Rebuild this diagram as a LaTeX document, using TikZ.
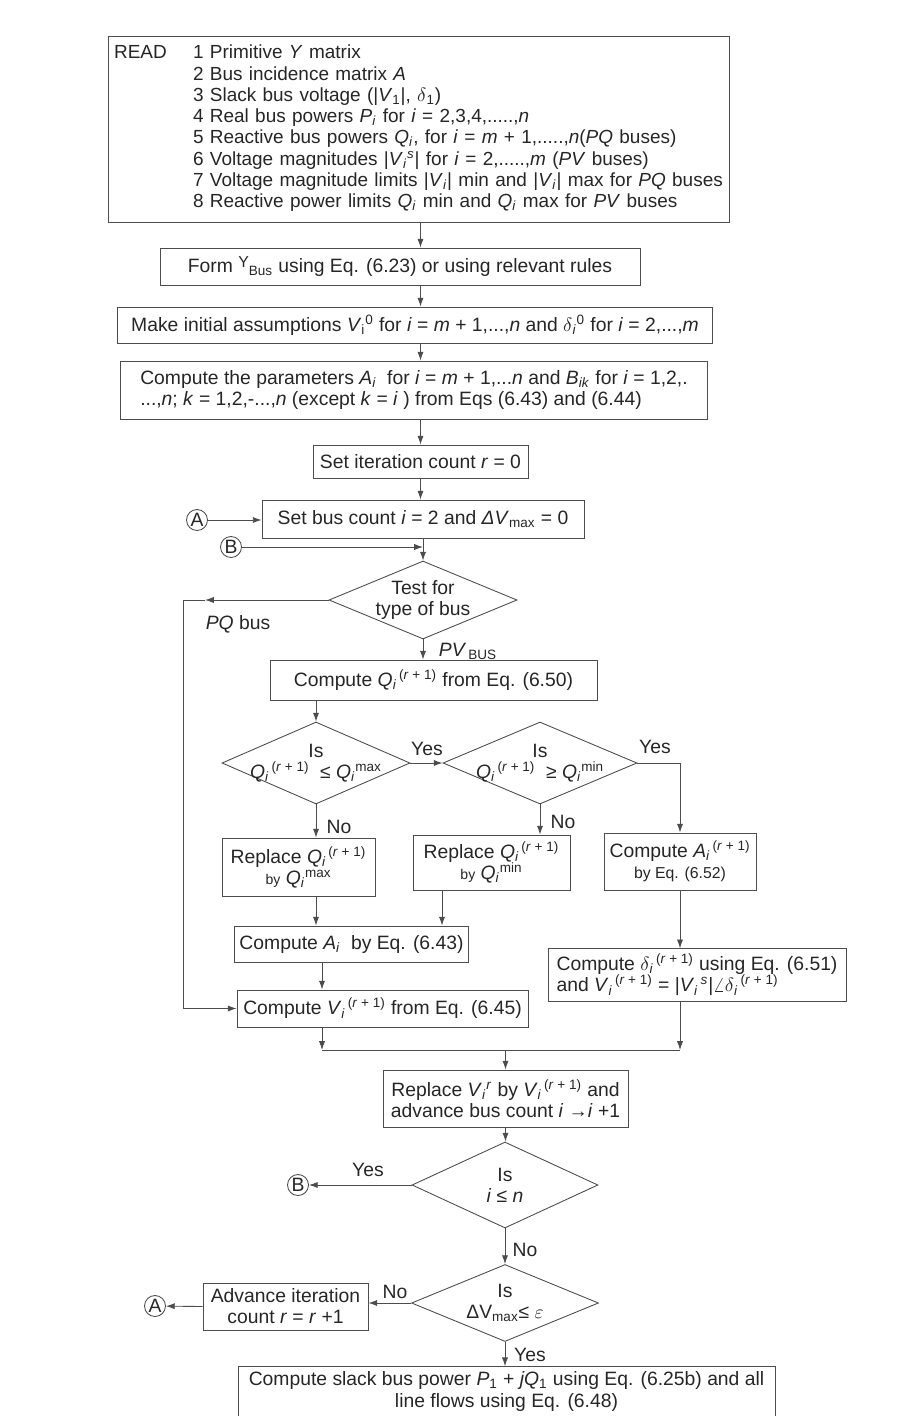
\documentclass[tikz,border=0pt]{standalone}
\usepackage{fontspec}
\setmainfont{Liberation Sans}
\usepackage{tikz}
\usetikzlibrary{arrows.meta,shapes.geometric}

\newcommand{\I}[1]{\textit{#1}}
\newcommand{\sbs}[1]{\textsubscript{#1}}
\newcommand{\sps}[1]{\textsuperscript{#1}}
\newcommand{\rpo}{\textsuperscript{\,(\I{r} + 1)}}
\newcommand{\smallby}{{\fontsize{8}{9}\selectfont by}}

\begin{document}
\begin{tikzpicture}[x=0.02cm, y=-0.02cm,
  every node/.style={font=\fontsize{11}{12}\selectfont, text=black!85},
  box/.style={draw=black!70, line width=0.5pt, inner sep=3pt, align=center},
  decision/.style={diamond, draw=black!70, line width=0.5pt, aspect=2.3,
    inner xsep=-1.2cm, inner ysep=0pt, align=center},
  conn/.style={circle, draw=black!70, line width=0.5pt, inner sep=0pt, minimum size=0.42cm},
  flow/.style={draw=black!70, line width=0.5pt, -{Latex[length=5pt,width=3.5pt]}},
  lbl/.style={inner sep=1pt}]

  \useasboundingbox (0,0) rectangle (906,1416);

  \node[box, font=\fontsize{10.8}{12.1}\selectfont, text width=12.2cm, align=left,
    minimum height=3.72cm] (read) at (419,129) {%
    \begin{tabular}{@{}p{1.58cm}@{}l@{}}
      READ & 1 Primitive \I{Y} matrix\\
           & 2 Bus incidence matrix \I{A}\\
           & 3 Slack bus voltage (|\I{V}\sbs{1}|, $\delta$\sbs{1})\\
           & 4 Real bus powers \I{P}\sbs{\I{i}} for \I{i} = 2,3,4,.....,\I{n}\\
           & 5 Reactive bus powers \I{Q}\sbs{\I{i}}, for \I{i} = \I{m} + 1,.....,\I{n}(\I{PQ} buses)\\
           & 6 Voltage magnitudes |\I{V}\sbs{\I{i}}\sps{\I{s}}| for \I{i} = 2,.....,\I{m} (\I{PV} buses)\\
           & 7 Voltage magnitude limits |\I{V}\sbs{\I{i}}| min and |\I{V}\sbs{\I{i}}| max for \I{PQ} buses\\
           & 8 Reactive power limits \I{Q}\sbs{\I{i}} min and \I{Q}\sbs{\I{i}} max for \I{PV} buses
    \end{tabular}};
  \node[box, minimum width=9.6cm, minimum height=0.74cm] (form) at (400,266.5)
    {Form {\fontsize{9}{9}\selectfont\raisebox{0.7ex}{Y}}\sbs{Bus} using Eq. (6.23) or using relevant rules};
  \node[box, minimum width=11.9cm, minimum height=0.72cm] (make) at (415,325)
    {Make initial assumptions \I{V}\sbs{i}\sps{0} for \I{i} = \I{m} + 1,...,\I{n} and $\delta$\sbs{\I{i}}\sps{0} for \I{i} = 2,...,\I{m}};
  \node[box, align=left, minimum width=11.74cm, minimum height=1.16cm] (params) at (414,390)
    {Compute the parameters \I{A}\sbs{\I{i}}\ \ for \I{i} = \I{m} + 1,...\I{n} and \I{B}\sbs{\I{ik}} for \I{i} = 1,2,.\\
     ...,\I{n}; \I{k} = 1,2,-...,\I{n} (except \I{k} = \I{i} ) from Eqs (6.43) and (6.44)};
  \node[box, minimum width=4.3cm, minimum height=0.66cm] (iter) at (420.5,461.5)
    {Set iteration count \I{r} = 0};
  \node[box, minimum width=6.44cm, minimum height=0.76cm] (busset) at (423,519)
    {Set bus count \I{i} = 2 and \I{Δ}\I{V}\sbs{max} = 0};
  \node[conn] (atop) at (197,520) {A};
  \node[conn] (btop) at (231,547) {B};

  \node[decision, minimum width=3.76cm, minimum height=1.56cm] (test) at (423,600)
    {Test for\\type of bus};
  \node[lbl] (pqlbl) at (238,624) {\I{PQ} bus};
  \node[lbl] (pvlbl) at (468,651) {\I{PV}\sbs{\,BUS}};
  \node[box, minimum width=6.54cm, minimum height=0.8cm] (qnew) at (433.5,680)
    {Compute \I{Q}\sbs{\I{i}}\rpo\ from Eq. (6.50)};

  \node[decision, minimum width=3.76cm, minimum height=1.64cm] (qmax) at (316,763)
    {Is\\\I{Q}\sbs{\I{i}}\rpo\ \ ≤ \I{Q}\sbs{\I{i}}\sps{max}};
  \node[decision, minimum width=3.88cm, minimum height=1.64cm] (qmin) at (540,763)
    {Is\\\I{Q}\sbs{\I{i}}\rpo\ \ ≥ \I{Q}\sbs{\I{i}}\sps{min}};
  \node[lbl] (yes1) at (427,749) {Yes};
  \node[lbl] (yes2) at (655,747) {Yes};
  \node[lbl] (no1) at (339,827) {No};
  \node[lbl] (no2) at (563,822) {No};

  \node[box, minimum width=3.06cm, minimum height=1.16cm] (rmax) at (298.5,867)
    {Replace \I{Q}\sbs{\I{i}}\rpo\\\smallby\ \I{Q}\sbs{\I{i}}\sps{max}};
  \node[box, minimum width=3.14cm, minimum height=1.1cm] (rmin) at (491.5,862.5)
    {Replace \I{Q}\sbs{\I{i}}\rpo\\\smallby\ \I{Q}\sbs{\I{i}}\sps{min}};
  \node[box, minimum width=3.04cm, minimum height=1.14cm] (anew) at (680,861.5)
    {Compute \I{A}\sbs{\I{i}}\rpo\\{\fontsize{9}{10}\selectfont by Eq. (6.52)}};
  \node[box, minimum width=4.66cm, minimum height=0.72cm] (aold) at (351.5,944)
    {Compute \I{A}\sbs{\I{i}}\ \ by Eq. (6.43)};
  \node[box, align=left, minimum width=5.96cm, minimum height=1.0cm] (dnew) at (697,975)
    {Compute $\delta$\sbs{\I{i}}\rpo\ using Eq. (6.51)\\
     and \I{V}\sbs{\I{i}}\rpo\ = |\I{V}\sbs{\I{i}}\sps{\,\I{s}}|$\angle\delta$\sbs{\I{i}}\rpo};
  \node[box, minimum width=5.82cm, minimum height=0.74cm] (vnew) at (382.5,1008.5)
    {Compute \I{V}\sbs{\I{i}}\rpo\ from Eq. (6.45)};

  \node[box, minimum width=4.9cm, minimum height=1.14cm] (vrep) at (505.5,1098.5)
    {Replace \I{V}\sbs{\I{i}}\sps{\I{r}} by \I{V}\sbs{\I{i}}\rpo\ and\\advance bus count \I{i} →\I{i} +1};
  \node[decision, minimum width=3.72cm, minimum height=1.72cm] (ilen) at (505,1185)
    {Is\\\I{i} ≤ \I{n}};
  \node[conn] (bbot) at (298,1185) {B};
  \node[lbl] (yes3) at (368,1170) {Yes};
  \node[lbl] (no3) at (525,1250) {No};
  \node[decision, minimum width=3.74cm, minimum height=1.54cm] (conv) at (505,1303)
    {Is\\ΔV\sbs{max}≤ $\varepsilon$};
  \node[box, minimum width=3.3cm, minimum height=0.94cm] (advance) at (285.5,1306.5)
    {Advance iteration\\count \I{r} = \I{r} +1};
  \node[conn] (abot) at (155,1306) {A};
  \node[lbl] (no4) at (395,1292) {No};
  \node[lbl] (yes4) at (530,1355) {Yes};
  \node[box, minimum width=10.74cm, minimum height=0.94cm] (final) at (506.5,1391.5)
    {Compute slack bus power \I{P}\sbs{1} + \I{jQ}\sbs{1} using Eq. (6.25b) and all\\line flows using Eq. (6.48)};

  \coordinate (pqtip) at (205,600);
  \coordinate (pqturn) at (183,600);
  \coordinate (mergel) at (322,1050);
  \coordinate (merger) at (680,1050);

  \draw[flow] (read.south -| iter) -- (form.north -| iter);
  \draw[flow] (form.south -| iter) -- (make.north -| iter);
  \draw[flow] (make.south -| iter) -- (params.north -| iter);
  \draw[flow] (params.south -| iter) -- (iter.north);
  \draw[flow] (iter.south) -- (iter.south |- busset.north);
  \draw[flow] (atop) -- (atop -| busset.west);
  \draw[flow] (btop) -- (btop -| test.north);
  \draw[flow] (busset.south -| test.north) -- (test.north);

  \draw[flow] (test.west) -- (pqtip);
  \draw[flow] (pqtip) -- (pqturn) |- (vnew.west);
  \draw[flow] (test.south) -- (test.south |- qnew.north);
  \draw[flow] (qmax.north |- qnew.south) -- (qmax.north);
  \draw[flow] (qmax.east) -- (qmin.west);
  \draw[flow] (qmin.east) -| (anew.north);
  \draw[flow] (qmax.south) -- (qmax.south |- rmax.north);
  \draw[flow] (qmin.south) -- (qmin.south |- rmin.north);
  \draw[flow] (qmax.south |- rmax.south) -- (qmax.south |- aold.north);
  \draw[flow] ([xshift=-0.99cm]rmin.south) -- ([xshift=-0.99cm]rmin.south |- aold.north);
  \draw[flow] (anew.south) -- (anew.south |- dnew.north);

  \draw[flow] (aold.south -| mergel) -- (vnew.north -| mergel);
  \draw[flow] (vnew.south -| mergel) -- (mergel);
  \draw[flow] (dnew.south -| merger) -- (merger);
  \draw[draw=black!70, line width=0.5pt] (mergel) -- (merger);
  \draw[flow] (mergel -| vrep.north) -- (vrep.north);

  \draw[flow] (vrep.south) -- (vrep.south |- ilen.north);
  \draw[flow] (ilen.west) -- (bbot);
  \draw[flow] (ilen.south) -- (conv.north);
  \draw[flow] (conv.west) -- (conv.west -| advance.east);
  \draw[flow] (advance.west) -- (abot);
  \draw[flow] (conv.south) -- (conv.south |- final.north);
\end{tikzpicture}
\end{document}
